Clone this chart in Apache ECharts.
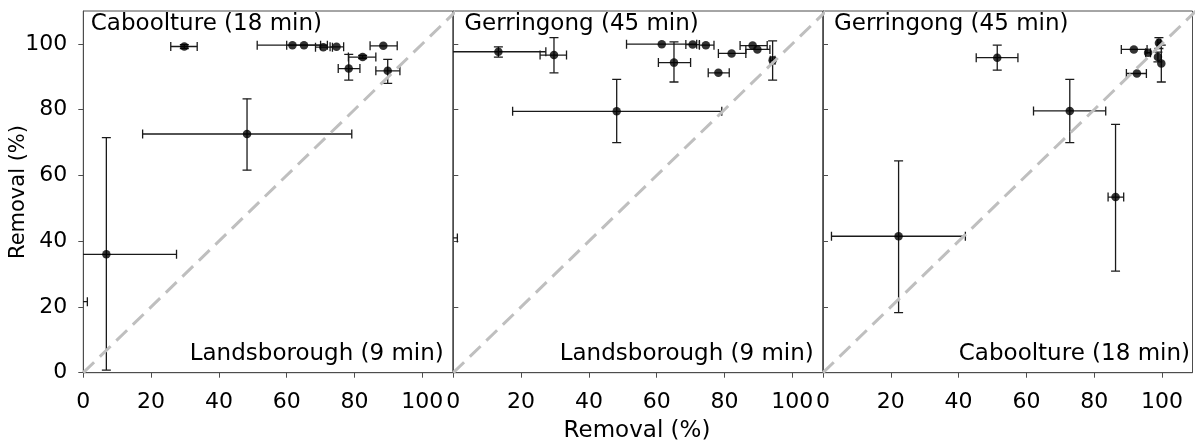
<!DOCTYPE html>
<html><head><meta charset="utf-8">
<script src="https://cdn.jsdelivr.net/npm/echarts@6/dist/echarts.min.js"></script>
<style>html,body{margin:0;padding:0;background:#fff}#c{width:1200px;height:446px}</style>
</head><body><div id="c"></div>
<script>
// ---------- data ----------
const tickValues = [0, 20, 40, 60, 80, 100];
const tickLabels = ['0', '20', '40', '60', '80', '100'];
const panelTopLabels = ['Caboolture (18 min)', 'Gerringong (45 min)', 'Gerringong (45 min)'];
const panelBottomLabels = ['Landsborough (9 min)', 'Landsborough (9 min)', 'Caboolture (18 min)'];
const axisTitle = 'Removal (%)';
const identityLine = [0, 110];

// Panel 1: Landsborough (x) vs Caboolture (y)
const p1X   = [29.8, 61.7, 65.1, 70.8, 74.7, 88.5, 82.4, 78.3, 89.8, 48.3, 6.8, -3.0];
const p1Y   = [99.2, 99.6, 99.6, 99.0, 99.1, 99.4, 96.0, 92.5, 91.8, 72.6, 36.0, 21.6];
const p1XLo = [25.8, 51.3, 60.0, 68.5, 72.8, 84.6, 78.2, 75.2, 86.3, 17.5, -14.0, -8.0];
const p1XHi = [33.6, 72.0, 70.0, 73.5, 76.8, 92.6, 86.3, 81.6, 93.4, 79.2, 27.5, 1.2];
const p1YLo = [98.6, 99.6, 99.6, 99.0, 99.1, 99.4, 95.5, 89.0, 88.0, 61.6, 0.8, 21.6];
const p1YHi = [99.8, 99.6, 99.6, 99.0, 99.1, 99.4, 96.5, 96.8, 95.3, 83.3, 71.5, 21.6];

// Panel 2: Landsborough (x) vs Gerringong (y)
const p2X   = [13.3, 29.7, 61.5, 65.1, 70.6, 74.5, 82.1, 78.2, 88.3, 89.7, 94.2, 48.2, -3.0];
const p2Y   = [97.6, 96.6, 99.9, 94.3, 99.8, 99.6, 97.1, 91.2, 99.5, 98.3, 95.0, 79.5, 41.0];
const p2XLo = [-1.0, 25.6, 51.1, 60.5, 68.6, 72.6, 78.2, 75.2, 84.6, 86.3, 93.5, 17.5, -8.0];
const p2XHi = [27.3, 33.4, 71.8, 70.0, 72.6, 76.9, 86.3, 81.4, 92.6, 93.4, 94.9, 79.2, 1.2];
const p2YLo = [96.0, 91.2, 99.9, 88.4, 99.8, 99.6, 97.1, 91.2, 99.5, 98.3, 89.0, 70.0, 41.0];
const p2YHi = [99.1, 101.9, 99.9, 100.6, 99.8, 99.6, 97.1, 91.2, 99.5, 98.3, 100.9, 89.2, 41.0];

// Panel 3: Caboolture (x) vs Gerringong (y)
const p3X   = [51.4, 72.8, 22.3, 86.3, 91.7, 95.9, 99.1, 98.8, 99.8, 92.6];
const p3Y   = [95.8, 79.6, 41.5, 53.4, 98.3, 97.3, 100.3, 96.0, 94.0, 91.0];
const p3XLo = [45.2, 62.1, 2.5, 84.1, 88.0, 95.2, 98.6, 98.8, 99.8, 89.5];
const p3XHi = [57.5, 83.4, 42.0, 88.7, 95.6, 96.6, 99.6, 98.8, 99.8, 95.4];
const p3YLo = [92.0, 70.0, 18.3, 30.9, 98.3, 97.3, 98.6, 94.5, 88.4, 91.0];
const p3YHi = [99.6, 89.2, 64.4, 75.5, 98.3, 97.3, 101.9, 97.5, 99.6, 91.0];

const panels = [
  [p1X, p1Y, p1XLo, p1XHi, p1YLo, p1YHi],
  [p2X, p2Y, p2XLo, p2XHi, p2YLo, p2YHi],
  [p3X, p3Y, p3XLo, p3XHi, p3YLo, p3YHi]
];

// ---------- layout ----------
const FONT = 'DejaVu Sans';
const gridLefts = [83.3, 453.3, 823.0];
const gridW = 369.5, gridTop = 11, gridH = 361.7;
const AXIS_COLOR = '#4d4d4d';

function errRender(params, api) {
  const x = api.value(0), y = api.value(1);
  const xl = api.value(2), xh = api.value(3), yl = api.value(4), yh = api.value(5);
  const c = api.coord([x, y]);
  const a = api.coord([xl, y]), b = api.coord([xh, y]);
  const d = api.coord([x, yl]), e = api.coord([x, yh]);
  const cap = 4.5;
  const style = { stroke: '#1a1a1a', lineWidth: 1.3, fill: null };
  const ch = [];
  if (Math.abs(b[0] - a[0]) > 0.5) {
    ch.push({ type: 'line', shape: { x1: a[0], y1: c[1], x2: b[0], y2: c[1] }, style });
    ch.push({ type: 'line', shape: { x1: a[0], y1: c[1] - cap, x2: a[0], y2: c[1] + cap }, style });
    ch.push({ type: 'line', shape: { x1: b[0], y1: c[1] - cap, x2: b[0], y2: c[1] + cap }, style });
  }
  if (Math.abs(e[1] - d[1]) > 0.5) {
    ch.push({ type: 'line', shape: { x1: c[0], y1: d[1], x2: c[0], y2: e[1] }, style });
    ch.push({ type: 'line', shape: { x1: c[0] - cap, y1: d[1], x2: c[0] + cap, y2: d[1] }, style });
    ch.push({ type: 'line', shape: { x1: c[0] - cap, y1: e[1], x2: c[0] + cap, y2: e[1] }, style });
  }
  return { type: 'group', children: ch };
}

const grids = [], xAxes = [], yAxes = [], series = [], graphics = [];
panels.forEach((p, i) => {
  grids.push({ left: gridLefts[i], top: gridTop, width: gridW, height: gridH,
    show: true, borderColor: AXIS_COLOR, borderWidth: 1, backgroundColor: 'transparent' });
  xAxes.push({ type: 'value', gridIndex: i, min: 0, max: 109,
    axisLine: { show: true, onZero: false, lineStyle: { color: AXIS_COLOR, width: 1 } },
    axisTick: { show: true, inside: false, length: 5, customValues: tickValues, lineStyle: { color: AXIS_COLOR } },
    axisLabel: { show: true, customValues: tickValues, margin: 19, color: '#000', fontSize: 22, fontFamily: FONT,
      formatter: v => tickLabels[tickValues.indexOf(v)] },
    splitLine: { show: false } });
  yAxes.push({ type: 'value', gridIndex: i, min: 0, max: 110,
    axisLine: { show: true, onZero: false, lineStyle: { color: AXIS_COLOR, width: 1 } },
    axisTick: { show: true, inside: i > 0, length: 5, customValues: tickValues, lineStyle: { color: AXIS_COLOR } },
    axisLabel: { show: i === 0, customValues: tickValues, margin: 16, color: '#000', fontSize: 22, fontFamily: FONT,
      formatter: v => tickLabels[tickValues.indexOf(v)] },
    splitLine: { show: false } });
  const rows = p[0].map((_, k) => [p[0][k], p[1][k], p[2][k], p[3][k], p[4][k], p[5][k]]);
  series.push({ type: 'custom', xAxisIndex: i, yAxisIndex: i, renderItem: errRender,
    data: rows, clip: true, silent: true, z: 2, encode: { x: 0, y: 1 } });
  series.push({ type: 'scatter', xAxisIndex: i, yAxisIndex: i, symbol: 'circle', symbolSize: 8.5,
    itemStyle: { color: '#000' }, data: p[0].map((_, k) => [p[0][k], p[1][k]]), clip: true, silent: true, z: 3 });
  series.push({ type: 'line', xAxisIndex: i, yAxisIndex: i, symbol: 'none', silent: true, z: 4, clip: true,
    lineStyle: { color: '#bfbfbf', width: 3, type: [15, 8] },
    data: [[identityLine[0], identityLine[0]], [identityLine[1], identityLine[1]]] });
  graphics.push({ type: 'text', left: gridLefts[i] + (i === 0 ? 7.5 : 11), top: 13, z: 10,
    style: { text: panelTopLabels[i], font: '23px "DejaVu Sans"', fill: '#000' } });
  graphics.push({ type: 'text', right: 1200 - (gridLefts[i] + gridW) + (i === 2 ? 2.5 : 9), top: 343, z: 10,
    style: { text: panelBottomLabels[i], font: '23px "DejaVu Sans"', fill: '#000' } });
});
graphics.push({ type: 'text', x: 637, y: 420, z: 10,
  style: { text: axisTitle, font: '23px "DejaVu Sans"', fill: '#000', align: 'center', verticalAlign: 'top' } });
graphics.push({ type: 'text', x: 8, y: 192, rotation: Math.PI / 2, z: 10,
  style: { text: axisTitle, font: '21px "DejaVu Sans"', fill: '#000', align: 'center', verticalAlign: 'top' } });

const chart = echarts.init(document.getElementById('c'), null, { renderer: 'canvas' });
chart.setOption({
  animation: false,
  backgroundColor: '#fff',
  grid: grids, xAxis: xAxes, yAxis: yAxes, series: series, graphic: graphics
});
</script></body></html>
